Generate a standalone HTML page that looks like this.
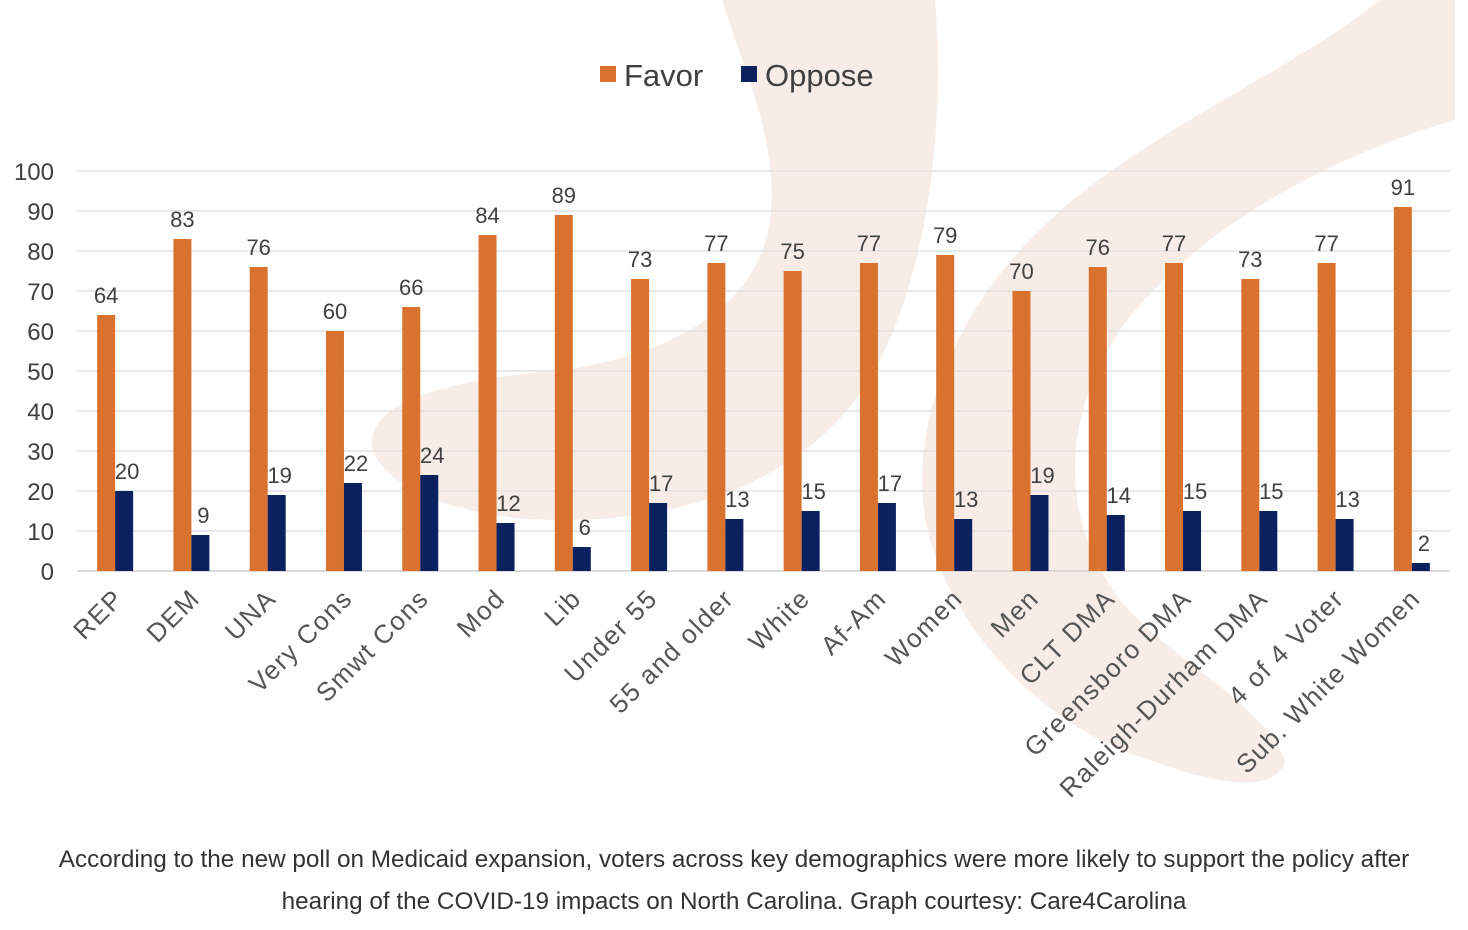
<!DOCTYPE html>
<html><head><meta charset="utf-8"><style>
body{margin:0;background:#fff;width:1468px;height:930px;overflow:hidden;font-family:"Liberation Sans",sans-serif}
#cap{position:absolute;left:0;top:839px;width:1468px;text-align:center;font-size:24.3px;line-height:42px;color:#333}
</style></head><body>
<svg width="1468" height="830" style="position:absolute;left:0;top:0" id="svg">
<g fill="#f8ece7">
<path d="M722,0 L935,0 C945,120 930,260 880,360 C830,460 720,520 560,520 C450,520 370,480 372,440 C375,400 450,380 560,370 C680,355 760,300 770,220 C780,140 740,60 722,0 Z"/>
<path d="M1380,0 L1455,0 L1455,120 C1350,150 1200,220 1120,330 C1060,420 1060,520 1120,600 C1170,660 1260,700 1285,760 C1280,790 1230,790 1150,760 C1050,730 960,640 930,540 C905,450 940,340 1020,250 C1120,140 1280,80 1380,0 Z"/>
</g>
<g id="grid"></g><g id="bars"></g><g id="labels"></g>
<g>
<rect x="600" y="66" width="16" height="16" fill="#d9722e"/>
<text x="624" y="86" font-size="31" fill="#404040">Favor</text>
<rect x="741" y="66" width="16" height="16" fill="#0c2160"/>
<text x="765" y="86" font-size="31" fill="#404040">Oppose</text>
</g>
</svg>
<div id="cap">According to the new poll on Medicaid expansion, voters across key demographics were more likely to support the policy after<br>hearing of the COVID-19 impacts on North Carolina. Graph courtesy: Care4Carolina</div>
<script>
const categories=["REP","DEM","UNA","Very Cons","Smwt Cons","Mod","Lib","Under 55","55 and older","White","Af-Am","Women","Men","CLT DMA","Greensboro DMA","Raleigh-Durham DMA","4 of 4 Voter","Sub. White Women"];
const favor=[64,83,76,60,66,84,89,73,77,75,77,79,70,76,77,73,77,91];
const oppose=[20,9,19,22,24,12,6,17,13,15,17,13,19,14,15,15,13,2];
const yTicks=[0,10,20,30,40,50,60,70,80,90,100];
const NS="http://www.w3.org/2000/svg";
const x0=77,x1=1450,y0=571,yTop=171;
const step=(x1-x0)/categories.length;
const y=v=>y0-(v/100)*(y0-yTop);
const cx=i=>x0+step*(i+0.5);
function mk(t,a,p){const e=document.createElementNS(NS,t);for(const k in a)e.setAttribute(k,a[k]);p.appendChild(e);return e;}
const G=document.getElementById('grid'),B=document.getElementById('bars'),L=document.getElementById('labels');
yTicks.forEach(v=>{
 const l=mk('line',{x1:x0,x2:x1,y1:y(v),y2:y(v),stroke:v===0?'#d0d0d0':'#e2e2e2','stroke-width':1.5},G);
 
 
 const t=mk('text',{x:54,y:y(v)+9,'font-size':24,fill:'#404040','text-anchor':'end'},G);
 t.textContent=v;
 
 
});
const bw=18;
categories.forEach((c,i)=>{
 const m=cx(i);
 const f=mk('rect',{x:m-bw,y:y(favor[i]),width:bw,height:y0-y(favor[i]),fill:'#d9722e'},B);
 
 
 const o=mk('rect',{x:m,y:y(oppose[i]),width:bw,height:y0-y(oppose[i]),fill:'#0c2160'},B);
 
 
 const tf=mk('text',{x:m-bw/2,y:y(favor[i])-12,'font-size':22,fill:'#404040','text-anchor':'middle'},L);
 tf.textContent=favor[i];
 
 
 const to=mk('text',{x:m+bw/2+3,y:y(oppose[i])-12,'font-size':22,fill:'#404040','text-anchor':'middle'},L);
 to.textContent=oppose[i];
 
 
 const tx=m+10,ty=600;
 const cl=mk('text',{x:tx,y:ty,'font-size':26,'letter-spacing':1.5,fill:'#555','text-anchor':'end',transform:`rotate(-45 ${tx} ${ty})`},L);
 cl.textContent=c;
 
 
});
</script>
</body></html>
